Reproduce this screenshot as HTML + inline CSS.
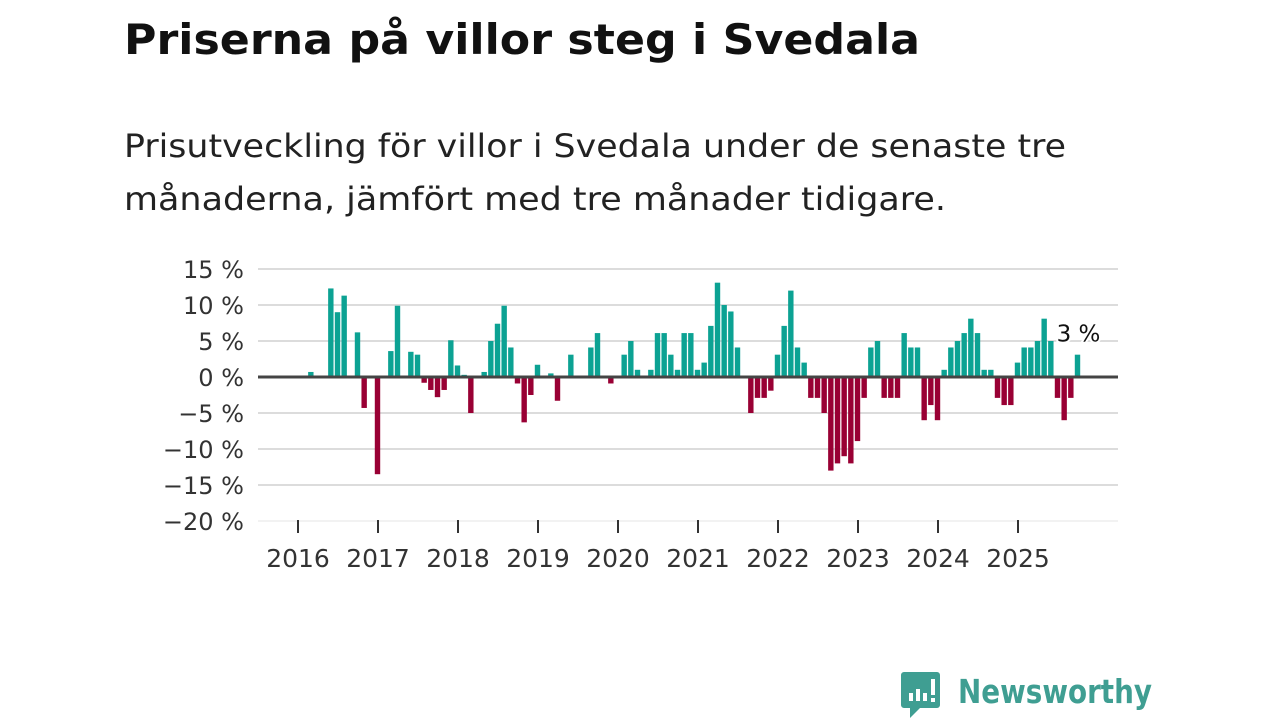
<!DOCTYPE html>
<html><head><meta charset="utf-8">
<style>
html,body{margin:0;padding:0;background:#fff;}
svg{display:block;font-family:"DejaVu Sans","Liberation Sans",sans-serif;}
</style></head>
<body>
<svg id="chart" width="1280" height="720" viewBox="0 0 1280 720">
  <text x="124" y="54" font-size="42" font-weight="bold" fill="#111" textLength="796" lengthAdjust="spacingAndGlyphs">Priserna på villor steg i Svedala</text>
  <text x="124" y="157" font-size="32" fill="#222" textLength="942" lengthAdjust="spacingAndGlyphs">Prisutveckling för villor i Svedala under de senaste tre</text>
  <text x="124" y="210" font-size="32" fill="#222" textLength="822" lengthAdjust="spacingAndGlyphs">månaderna, jämfört med tre månader tidigare.</text>
  <g id="grid"></g>
  <g id="yaxis"></g>
  <g id="bars"></g>
  <g id="xaxis"></g>
  <g>
    <path d="M904 672 h33 a3 3 0 0 1 3 3 v30 a3 3 0 0 1 -3 3 h-17 l-10 10 v-10 h-6 a3 3 0 0 1 -3 -3 v-30 a3 3 0 0 1 3 -3z" fill="#3f9e92"/>
    <rect x="909" y="693" width="4" height="8" fill="#fff"/>
    <rect x="916" y="689" width="4" height="12" fill="#fff"/>
    <rect x="923" y="693" width="4" height="8" fill="#fff"/>
    <rect x="931" y="679" width="4" height="16" fill="#fff"/>
    <rect x="931" y="698" width="4" height="4" fill="#fff"/>
    <text x="958" y="703" font-size="33" font-weight="bold" fill="#3f9e92" textLength="194" lengthAdjust="spacingAndGlyphs">Newsworthy</text>
  </g>
</svg>
<script>
const yTicks = [15, 10, 5, 0, -5, -10, -15, -20];
const yearLabels = ["2016","2017","2018","2019","2020","2021","2022","2023","2024","2025"];
// monthly values starting Jan 2016 (null = no data)
const values = [
 null,null,0.7,null,null,12.3,9,11.3,null,6.2,-4.3,null,-13.5,null,3.6,9.9,null,3.5,3.1,-0.8,
 -1.8,-2.8,-1.8,5.1,1.6,0.3,-5,null,0.7,5,7.4,9.9,4.1,-0.9,-6.3,-2.5,1.7,null,0.5,-3.3,
 null,3.1,null,null,4.1,6.1,null,-0.9,null,3.1,5,1,null,1,6.1,6.1,3.1,1,6.1,6.1,
 1,2,7.1,13.1,10,9.1,4.1,null,-5,-2.9,-2.9,-1.9,3.1,7.1,12,4.1,2,-2.9,-2.9,-5,
 -13,-12,-11,-12,-8.9,-2.9,4.1,5,-2.9,-2.9,-2.9,6.1,4.1,4.1,-6,-3.9,-6,1,4.1,5,
 6.1,8.1,6.1,1,1,-2.9,-3.9,-3.9,2,4.1,4.1,5,8.1,5,-2.9,-6,-2.9,3.1
];
const lastLabel = "3 %";

const NS = "http://www.w3.org/2000/svg";
const x0 = 298, monthW = 80/12, xLeft = 258, xRight = 1118;
const yZero = 377, pxPer = 7.2;
function y(v){ return yZero - v*pxPer; }
function xc(i){ return x0 + i*monthW - 0.5; }
function mk(tag, attrs, parent){ const e=document.createElementNS(NS,tag); for(const k in attrs) e.setAttribute(k,attrs[k]); parent.appendChild(e); return e; }

const grid=document.getElementById('grid'), ya=document.getElementById('yaxis'), bars=document.getElementById('bars'), xa=document.getElementById('xaxis');
yTicks.forEach(t=>{
  if(t!==0){
    const l=mk('line',{x1:xLeft,x2:xRight,y1:y(t),y2:y(t),stroke:t===-20?'#e6e6e6':'#dcdcdc','stroke-width':t===-20?1:2},grid);
    
    
  }
  const tx=mk('text',{x:244,y:y(t)+9,'font-size':24,'text-anchor':'end',fill:'#333'},ya);
  tx.textContent=(t<0?'\u2212'+(-t):t)+' %';
  
  
});
values.forEach((v,i)=>{
  if(v===null) return;
  const r=mk('rect',{x:xc(i)-2.7,width:5.4,y:v>=0?y(v):yZero,height:Math.abs(v)*pxPer,fill:v>=0?'#0ca293':'#990034'},bars);
  
  
});
const zl=mk('line',{x1:xLeft,x2:xRight,y1:yZero,y2:yZero,stroke:'#444','stroke-width':3},bars);


yearLabels.forEach((lab,k)=>{
  const xx=x0+k*80;
  const tk=mk('line',{x1:xx,x2:xx,y1:520,y2:533,stroke:'#333','stroke-width':2},xa);
  
  
  const tx=mk('text',{x:xx,y:567,'font-size':25,'text-anchor':'middle',fill:'#333'},xa);
  tx.textContent=lab;
  
  
});
const li=values.length-1;
const lt=mk('text',{x:xc(li)+1,y:y(values[li])-13,'font-size':23,'text-anchor':'middle',fill:'#111',stroke:'#fff','stroke-width':4,'paint-order':'stroke'},bars);
lt.textContent=lastLabel;


</script>
</body></html>
